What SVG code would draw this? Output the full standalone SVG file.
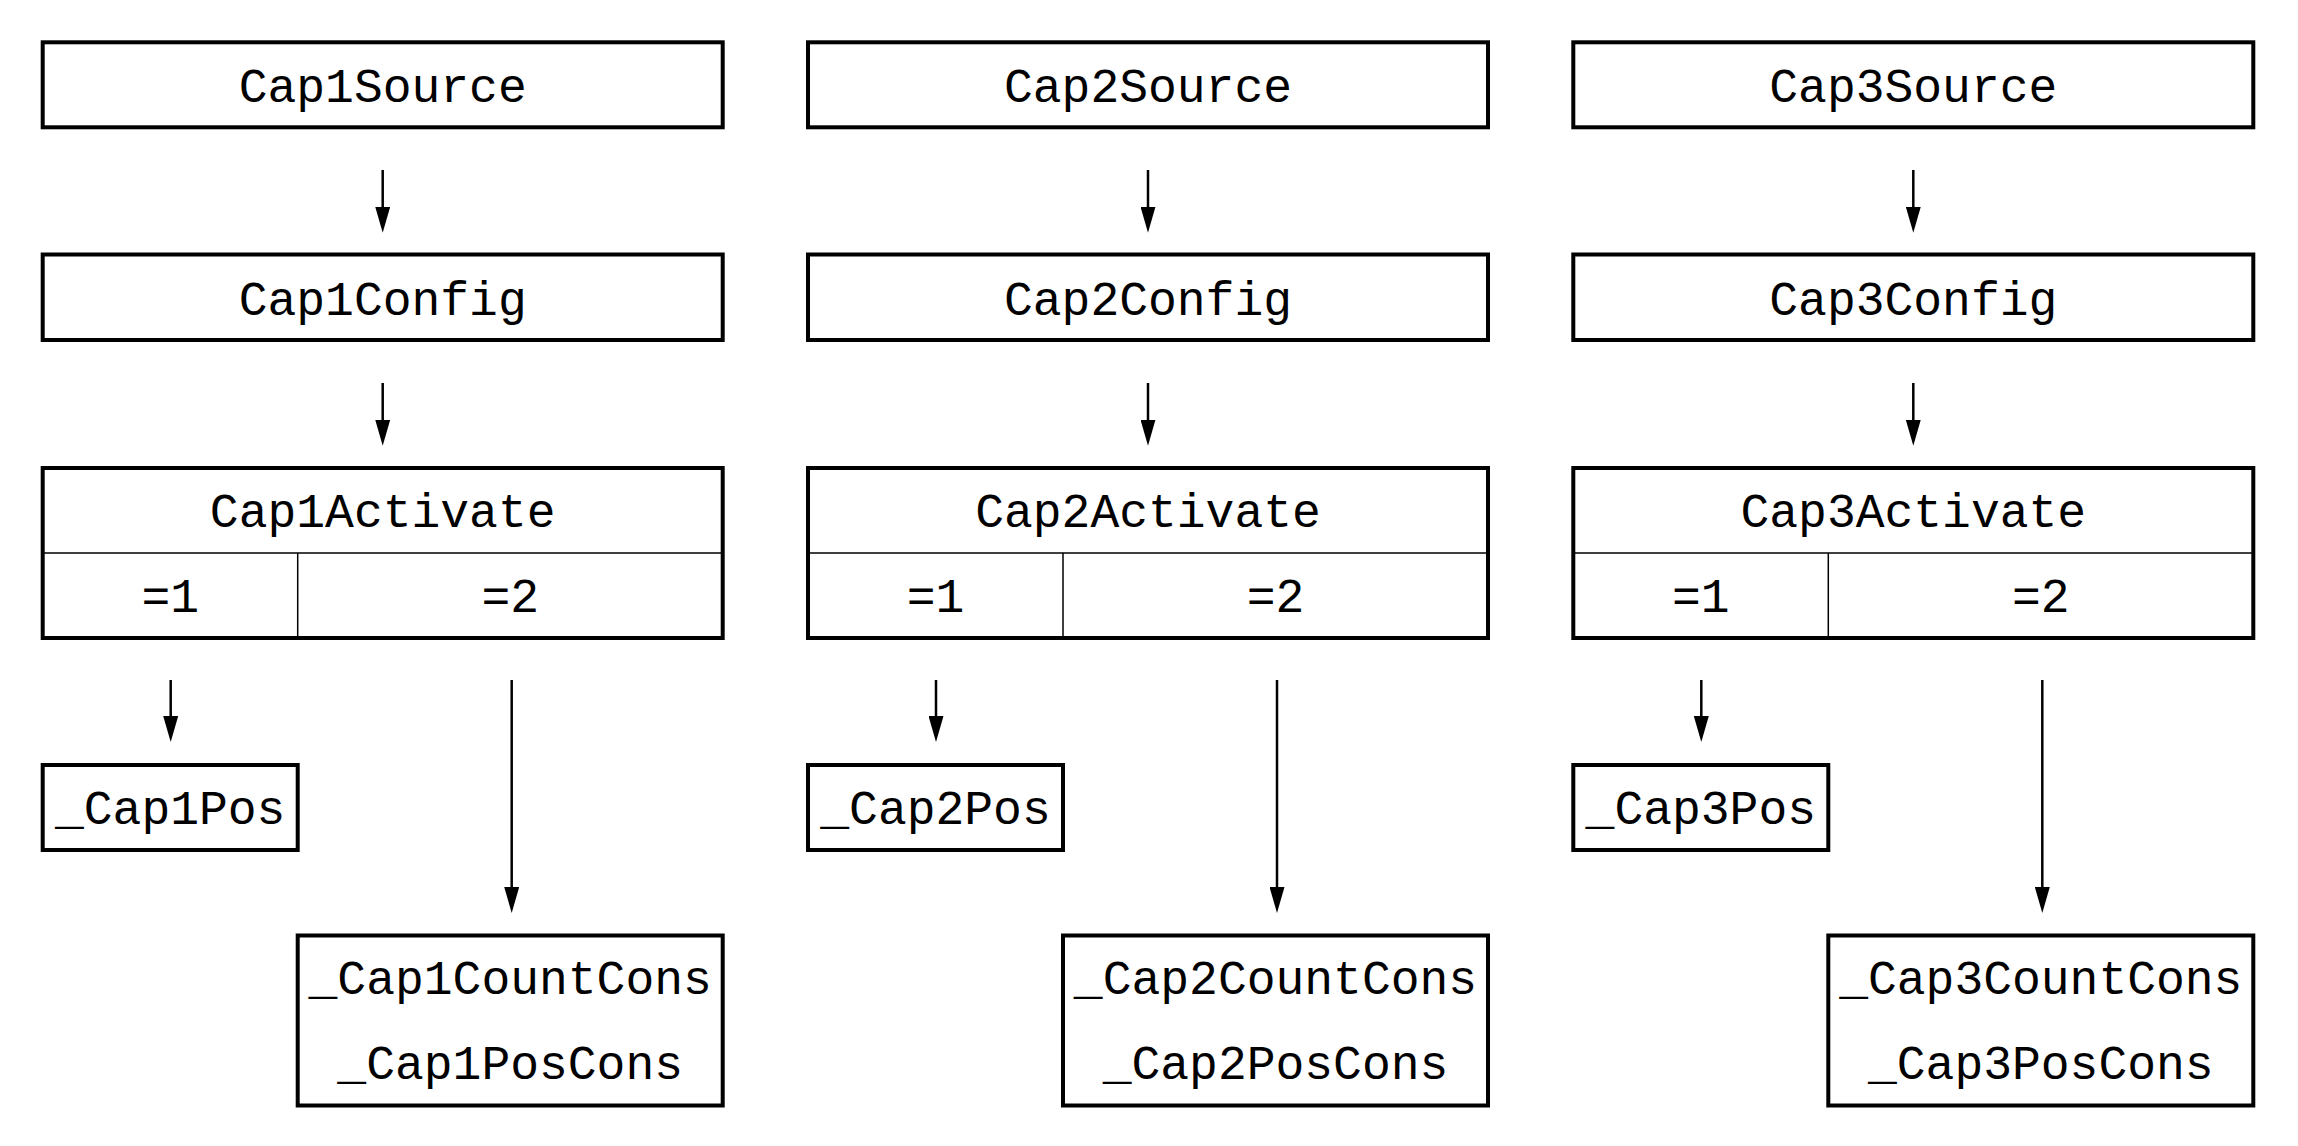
<svg xmlns="http://www.w3.org/2000/svg" width="2298" height="1146" viewBox="0 0 2298 1146">
<style>
.box{fill:#fff;stroke:#000;stroke-width:4}
.div{stroke:#000;stroke-width:1.5;fill:none}
.t{font-family:"Liberation Mono","Courier New",monospace;font-size:48px;fill:#000;text-anchor:middle}
.c{stroke:#000;stroke-width:2.5;fill:none;marker-end:url(#ah)}
</style>
<defs>
<marker id="ah" viewBox="0 0 26 15" refX="6" refY="7.5" markerWidth="26" markerHeight="15" markerUnits="userSpaceOnUse" orient="auto">
<path d="M0,0 L26,7.5 L0,15 z" fill="#000"/>
</marker>
</defs>
<rect width="2298" height="1146" fill="#fff"/>

<g transform="translate(42.7,0)">
<g id="cap1source"><rect class="box" x="0" y="42.3" width="680" height="85"/><text class="t" x="340" y="101.5">Cap1Source</text></g>
<g id="cap1config"><rect class="box" x="0" y="254.5" width="680" height="85.5"/><text class="t" x="340" y="314.5">Cap1Config</text></g>
<g id="cap1activate"><rect class="box" x="0" y="468" width="680" height="170"/><line class="div" x1="0" y1="553" x2="680" y2="553"/><line class="div" x1="255" y1="553" x2="255" y2="638"/><text class="t" x="340" y="526.5">Cap1Activate</text><text class="t" x="127.5" y="612">=1</text><text class="t" x="467.5" y="612">=2</text></g>
<g id="cap1pos"><rect class="box" x="0" y="765" width="255" height="85"/><text class="t" x="127.5" y="824">_Cap1Pos</text></g>
<g id="cap1cons"><rect class="box" x="255" y="935.5" width="425" height="170"/><text class="t" x="467.5" y="994">_Cap1CountCons</text><text class="t" x="467.5" y="1079">_Cap1PosCons</text></g>
<g id="connectors1">
<line class="c" x1="340" y1="170" x2="340" y2="212.7"/>
<line class="c" x1="340" y1="383" x2="340" y2="425.7"/>
<line class="c" x1="128" y1="680" x2="128" y2="722"/>
<line class="c" x1="469" y1="680" x2="469" y2="893"/>
</g>
</g>

<g transform="translate(808,0)">
<g id="cap2source"><rect class="box" x="0" y="42.3" width="680" height="85"/><text class="t" x="340" y="101.5">Cap2Source</text></g>
<g id="cap2config"><rect class="box" x="0" y="254.5" width="680" height="85.5"/><text class="t" x="340" y="314.5">Cap2Config</text></g>
<g id="cap2activate"><rect class="box" x="0" y="468" width="680" height="170"/><line class="div" x1="0" y1="553" x2="680" y2="553"/><line class="div" x1="255" y1="553" x2="255" y2="638"/><text class="t" x="340" y="526.5">Cap2Activate</text><text class="t" x="127.5" y="612">=1</text><text class="t" x="467.5" y="612">=2</text></g>
<g id="cap2pos"><rect class="box" x="0" y="765" width="255" height="85"/><text class="t" x="127.5" y="824">_Cap2Pos</text></g>
<g id="cap2cons"><rect class="box" x="255" y="935.5" width="425" height="170"/><text class="t" x="467.5" y="994">_Cap2CountCons</text><text class="t" x="467.5" y="1079">_Cap2PosCons</text></g>
<g id="connectors2">
<line class="c" x1="340" y1="170" x2="340" y2="212.7"/>
<line class="c" x1="340" y1="383" x2="340" y2="425.7"/>
<line class="c" x1="128" y1="680" x2="128" y2="722"/>
<line class="c" x1="469" y1="680" x2="469" y2="893"/>
</g>
</g>

<g transform="translate(1573.3,0)">
<g id="cap3source"><rect class="box" x="0" y="42.3" width="680" height="85"/><text class="t" x="340" y="101.5">Cap3Source</text></g>
<g id="cap3config"><rect class="box" x="0" y="254.5" width="680" height="85.5"/><text class="t" x="340" y="314.5">Cap3Config</text></g>
<g id="cap3activate"><rect class="box" x="0" y="468" width="680" height="170"/><line class="div" x1="0" y1="553" x2="680" y2="553"/><line class="div" x1="255" y1="553" x2="255" y2="638"/><text class="t" x="340" y="526.5">Cap3Activate</text><text class="t" x="127.5" y="612">=1</text><text class="t" x="467.5" y="612">=2</text></g>
<g id="cap3pos"><rect class="box" x="0" y="765" width="255" height="85"/><text class="t" x="127.5" y="824">_Cap3Pos</text></g>
<g id="cap3cons"><rect class="box" x="255" y="935.5" width="425" height="170"/><text class="t" x="467.5" y="994">_Cap3CountCons</text><text class="t" x="467.5" y="1079">_Cap3PosCons</text></g>
<g id="connectors3">
<line class="c" x1="340" y1="170" x2="340" y2="212.7"/>
<line class="c" x1="340" y1="383" x2="340" y2="425.7"/>
<line class="c" x1="128" y1="680" x2="128" y2="722"/>
<line class="c" x1="469" y1="680" x2="469" y2="893"/>
</g>
</g>
</svg>
